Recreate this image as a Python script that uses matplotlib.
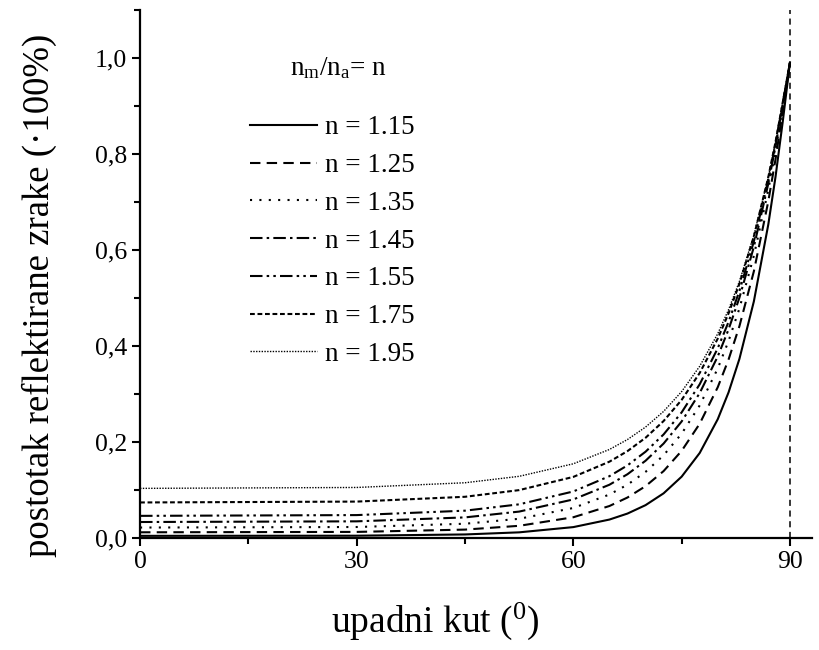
import matplotlib.pyplot as plt
from matplotlib.ticker import MultipleLocator, FuncFormatter

plt.rcParams["font.family"] = ["Liberation Serif", "DejaVu Serif"]
plt.rcParams["mathtext.fontset"] = "custom"
plt.rcParams["mathtext.rm"] = "Liberation Serif"
plt.rcParams["mathtext.it"] = "Liberation Serif:italic"

# incidence angle (degrees)
angles = [0, 30, 45, 52.5, 60, 65, 67.5, 70, 72.5, 75, 77.5, 80, 81.5, 83, 85, 87, 88, 89, 90]

# reflected fraction
r_115 = [0.0049, 0.0052, 0.0078, 0.0122, 0.0231, 0.0388, 0.0513, 0.0688, 0.0934, 0.1281, 0.1774, 0.2477, 0.3037, 0.3732, 0.4929, 0.6530, 0.7523, 0.8671, 0.99]
r_125 = [0.0123, 0.0131, 0.0179, 0.0258, 0.0436, 0.0670, 0.0847, 0.1083, 0.1397, 0.1818, 0.2383, 0.3143, 0.3721, 0.4413, 0.5555, 0.7013, 0.7888, 0.8879, 0.99]
r_135 = [0.0222, 0.0233, 0.0301, 0.0404, 0.0629, 0.0909, 0.1114, 0.1380, 0.1726, 0.2176, 0.2764, 0.3533, 0.4107, 0.4782, 0.5878, 0.7250, 0.8063, 0.8975, 0.99]
r_145 = [0.0337, 0.0351, 0.0433, 0.0554, 0.0807, 0.1113, 0.1332, 0.1612, 0.1970, 0.2430, 0.3021, 0.3784, 0.4347, 0.5006, 0.6065, 0.7381, 0.8157, 0.9026, 0.99]
r_155 = [0.0465, 0.0481, 0.0573, 0.0705, 0.0973, 0.1291, 0.1516, 0.1800, 0.2160, 0.2619, 0.3204, 0.3954, 0.4504, 0.5147, 0.6177, 0.7456, 0.8210, 0.9053, 0.99]
r_175 = [0.0744, 0.0762, 0.0862, 0.1001, 0.1276, 0.1593, 0.1813, 0.2090, 0.2439, 0.2879, 0.3439, 0.4155, 0.4681, 0.5295, 0.6283, 0.7516, 0.8248, 0.9071, 0.99]
r_195 = [0.1037, 0.1056, 0.1154, 0.1288, 0.1549, 0.1847, 0.2054, 0.2313, 0.2639, 0.3052, 0.3579, 0.4257, 0.4758, 0.5347, 0.6304, 0.7514, 0.8239, 0.9063, 0.99]

labels = ["n = 1.15", "n = 1.25", "n = 1.35", "n = 1.45", "n = 1.55", "n = 1.75", "n = 1.95"]
series = [r_115, r_125, r_135, r_145, r_155, r_175, r_195]

styles = [
    ("-", 1.5),
    ((0, (5, 3)), 1.5),
    ((0, (1, 3.5)), 1.5),
    ((0, (6, 2, 1.2, 2)), 1.5),
    ((0, (6, 2, 1.2, 2, 1.2, 2)), 1.5),
    ((0, (2.3, 1.3)), 1.5),
    ((0, (1, 1)), 1.0),
]

fig = plt.figure(figsize=(8.19, 6.5), dpi=100)
ax = fig.add_axes([0.171, 0.172, 0.82, 0.813])

for ys, lab, (ls, lw) in zip(series, labels, styles):
    ax.plot(angles, ys, color="black", linestyle=ls, lw=lw, label=lab)

ax.axvline(90, color="black", lw=1.1, linestyle=(0, (4, 3)))

ax.set_xlim(0, 93)
ax.set_ylim(0, 1.1)
ax.spines["top"].set_visible(False)
ax.spines["right"].set_visible(False)
ax.spines["left"].set_linewidth(1.6)
ax.spines["bottom"].set_linewidth(1.6)

ax.xaxis.set_major_locator(MultipleLocator(30))
ax.xaxis.set_minor_locator(MultipleLocator(15))
ax.yaxis.set_major_locator(MultipleLocator(0.2))
ax.yaxis.set_minor_locator(MultipleLocator(0.1))
ax.yaxis.set_major_formatter(FuncFormatter(lambda v, p: f"{v:.1f}".replace(".", ",")))
ax.tick_params(which="major", direction="out", length=6, width=1.5, labelsize=18.5)
ax.tick_params(which="minor", direction="out", length=4, width=1.5)

ax.set_xlabel(r"upadni kut ($^{0}$)", fontsize=27, va="top")
ax.xaxis.set_label_coords(0.44, -0.118)
ax.set_ylabel("postotak reflektirane zrake (\u00b7100%)", fontsize=26.5)
ax.yaxis.set_label_coords(-0.124, 0.46)

ax.text(0.223, 0.877, r"n$_{\mathrm{m}}$/n$_{\mathrm{a}}$= n", transform=ax.transAxes,
        fontsize=19.5, ha="left", va="baseline")

ax.legend(loc="upper left", bbox_to_anchor=(0.163, 0.80), frameon=False, fontsize=19.5,
          handlelength=2.5, handletextpad=0.3, labelspacing=0.47, borderpad=0, borderaxespad=0)

fig.savefig("out.png", dpi=100)
